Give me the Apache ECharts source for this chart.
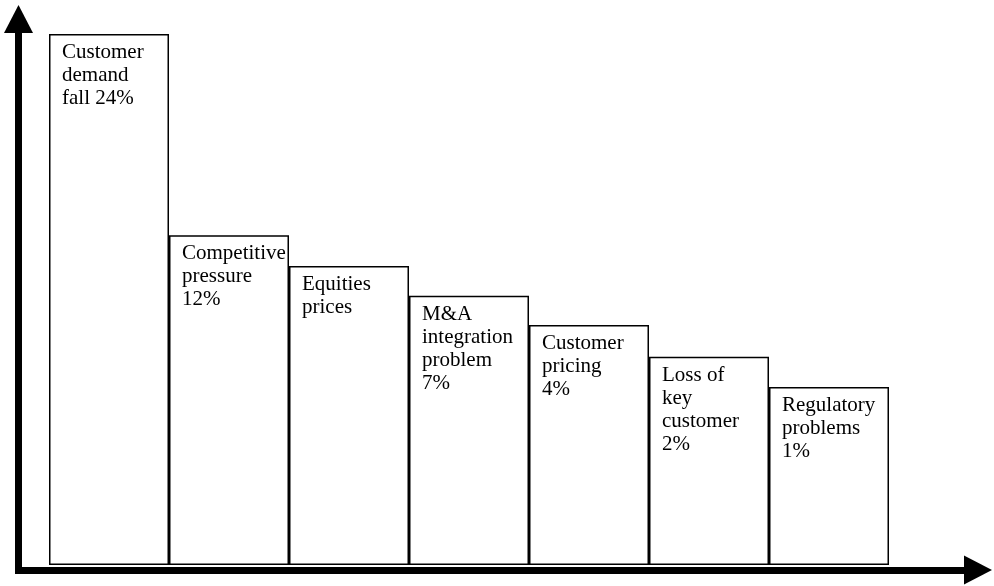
<!DOCTYPE html>
<html>
<head>
<meta charset="utf-8">
<script src="https://cdn.jsdelivr.net/npm/echarts@6/dist/echarts.min.js"></script>
<style>
  html, body { margin: 0; padding: 0; background: #fff; }
  #chart { width: 994px; height: 586px; }
</style>
</head>
<body>
<div id="chart"></div>
<script>
// Causes of revenue decline, ranked as a descending staircase
const causes = [
  'Customer\ndemand\nfall',
  'Competitive\npressure',
  'Equities\nprices',
  'M&A\nintegration\nproblem',
  'Customer\npricing',
  'Loss of\nkey\ncustomer',
  'Regulatory\nproblems'
];
// share of respondents citing each cause ('' where none is given)
const shares = ['24%', '12%', '', '7%', '4%', '2%', '1%'];
// step height of each block (relative scale, tallest = 100)
const stepLevels = [100, 62.1, 56.3, 50.7, 45.2, 39.2, 33.5];

function labelText(i) {
  const name = causes[i];
  const share = shares[i];
  if (!share) return name;
  // the first block keeps its share on the last line of the name
  return i === 0 ? name + ' ' + share : name + '\n' + share;
}

const chart = echarts.init(document.getElementById('chart'), null, { renderer: 'canvas' });

const axisLineStyle = { color: '#000', width: 7, cap: 'square' };

chart.setOption({
  animation: false,
  backgroundColor: '#fff',
  grid: [
    // frame carrying the two arrowed axes
    { left: 18.5, right: 16, top: 19, bottom: 16 },
    // area holding the blocks
    { left: 49, right: 105, top: 34, bottom: 21 }
  ],
  xAxis: [
    {
      gridIndex: 0, type: 'value', min: 0, max: 1,
      axisLine: { show: true, symbol: ['none', 'triangle'], symbolSize: [29, 28], lineStyle: axisLineStyle },
      axisTick: { show: false }, axisLabel: { show: false }, splitLine: { show: false }
    },
    {
      gridIndex: 1, type: 'category', data: causes,
      axisLine: { show: false }, axisTick: { show: false }, axisLabel: { show: false }, splitLine: { show: false }
    }
  ],
  yAxis: [
    {
      gridIndex: 0, type: 'value', min: 0, max: 1,
      axisLine: { show: true, symbol: ['none', 'triangle'], symbolSize: [29, 28], lineStyle: axisLineStyle },
      axisTick: { show: false }, axisLabel: { show: false }, splitLine: { show: false }
    },
    {
      gridIndex: 1, type: 'value', min: 0, max: 100,
      axisLine: { show: false }, axisTick: { show: false }, axisLabel: { show: false }, splitLine: { show: false }
    }
  ],
  series: [
    {
      type: 'bar',
      xAxisIndex: 1,
      yAxisIndex: 1,
      barWidth: '100%',
      data: stepLevels,
      itemStyle: { color: '#fff', borderColor: '#000', borderWidth: 1.5 },
      label: {
        show: true,
        position: [13, 7],
        formatter: function (p) { return labelText(p.dataIndex); },
        fontFamily: '"Liberation Serif", "Times New Roman", serif',
        fontSize: 21,
        lineHeight: 23,
        color: '#000',
        align: 'left',
        verticalAlign: 'top'
      }
    }
  ]
});
</script>
</body>
</html>
